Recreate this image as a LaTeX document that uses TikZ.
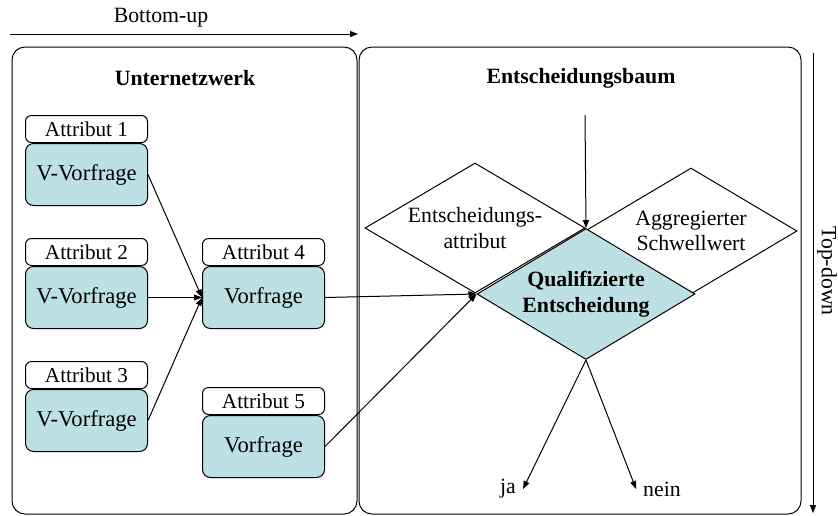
\documentclass[tikz,border=0pt]{standalone}
\usepackage{fontspec}
\setmainfont{Liberation Serif}
\usetikzlibrary{positioning,shapes.geometric,arrows.meta}
\definecolor{qteal}{RGB}{188,224,228}
\begin{document}
\begin{tikzpicture}[x=0.5pt,y=-0.5pt,line width=0.5pt,
    font=\fontsize{10.9}{12.8}\selectfont,
    arr/.style={-{Triangle[length=4pt,width=3pt]}},
    attrbox/.style={draw,rounded corners=3pt,minimum width=61pt,minimum height=13.5pt,inner sep=0pt,
        font=\fontsize{10.6}{12.6}\selectfont},
    fragebox/.style={draw,fill=qteal,rounded corners=4pt,minimum width=61pt,minimum height=31pt,inner sep=0pt,
        font=\fontsize{11.3}{13}\selectfont},
    raute/.style={draw,diamond,aspect=1.7,inner sep=0pt,align=center}]
        \useasboundingbox (0,0) rectangle (838,515);
        % Draw bottom-up arrow
        \node (bu) at (161,18) {Bottom-up};
        \coordinate (bua) at (10,34);
        \coordinate (bub) at (358,34);
        \draw[arr] (bua) -- (bub);
        % Draw top-down arrow
        \node[rotate=-90] (td) at (827,271) {Top-down};
        \coordinate (tda) at (813,53);
        \coordinate (tdb) at (813,513);
        \draw[arr] (tda) -- (tdb);
        % Draw the two frames
        \draw[rounded corners=6.5pt] (12,47) rectangle (357,514);
        \draw[rounded corners=6.5pt] (359,47) rectangle (801,514);
        \node[font=\fontsize{10.9}{12.8}\selectfont\bfseries] (unt) at (185,78) {Unternetzwerk};
        \node[font=\fontsize{10.9}{12.8}\selectfont\bfseries] (eb) at (581,78) {Entscheidungsbaum};
        % Draw attribute boxes
        \node[attrbox,anchor=north west] (a1) at (25,115) {Attribut 1};
        \node[fragebox,below=0pt of a1] (v1) {V-Vorfrage};
        \node[attrbox,anchor=north west] (a2) at (25,238) {Attribut 2};
        \node[fragebox,below=0pt of a2] (v2) {V-Vorfrage};
        \node[attrbox,anchor=north west] (a3) at (25,361) {Attribut 3};
        \node[fragebox,below=0pt of a3] (v3) {V-Vorfrage};
        \node[attrbox,anchor=north west] (a4) at (202,238) {Attribut 4};
        \node[fragebox,below=0pt of a4] (v4) {Vorfrage};
        \node[attrbox,anchor=north west] (a5) at (202,387) {Attribut 5};
        \node[fragebox,below=0pt of a5] (v5) {Vorfrage};
        % Draw decision diamonds
        \node[raute,minimum width=110pt,minimum height=65pt] (ea) at (475,228) {Entscheidungs-\\attribut};
        \node[raute,minimum width=106pt,minimum height=63pt] (sw) at (691,231) {Aggregierter\\Schwellwert};
        \node[raute,fill=qteal,minimum width=109pt,minimum height=65.5pt,font=\fontsize{10.9}{12.8}\selectfont\bfseries] (qe) at (586,294) {Qualifizierte\\Entscheidung};
        % Draw outcomes
        \node (ja) at (508,489) {ja};
        \node (nein) at (662,489) {nein};
        \coordinate (top) at (585,115);
        % Draw arrows
        \draw[arr] (v1.east) -- (v4.west);
        \draw[arr] (v2.east) -- (v4.west);
        \draw[arr] (v3.east) -- (v4.west);
        \draw[arr] (v4.east) -- (qe.west);
        \draw[arr] (v5.east) -- (qe.west);
        \draw[arr] (top) -- (qe.north);
        \draw[arr] (qe.south) -- (ja.east);
        \draw[arr] (qe.south) -- (nein.west);
    \end{tikzpicture}
\end{document}
